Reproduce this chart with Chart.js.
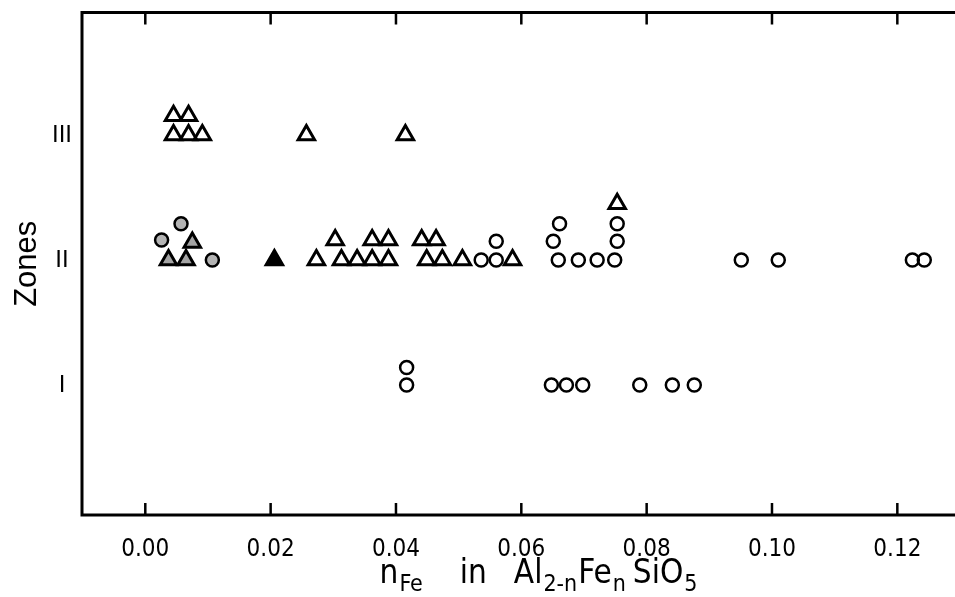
<!DOCTYPE html>
<html>
<head>
<meta charset="utf-8">
<script src="https://cdn.jsdelivr.net/npm/chart.js@4/dist/chart.umd.min.js"></script>
<style>
html, body { margin: 0; padding: 0; overflow: hidden; background: #fff; }
canvas { display: block; }
</style>
</head>
<body>
<canvas id="grafica" width="975" height="597"></canvas>
<script>
// etiquetas de los ejes
var zoneLabels = ['I', 'II', 'III'];
var zoneValues = [1, 2, 3];
var xTickValues = [0, 0.02, 0.04, 0.06, 0.08, 0.10, 0.12];

// triangulos abiertos (y = zona, con desplazamiento cuando se apilan)
var openTriX = [0.0045, 0.0069, 0.0091, 0.0257, 0.0415, 0.0045, 0.0069,
                0.0273, 0.0313, 0.0338, 0.0362, 0.0388, 0.0449, 0.0474, 0.0506, 0.0586,
                0.0303, 0.0362, 0.0388, 0.0441, 0.0464,
                0.0753];
var openTriY = [3, 3, 3, 3, 3, 3.155, 3.155,
                2, 2, 2, 2, 2, 2, 2, 2, 2,
                2.16, 2.16, 2.16, 2.16, 2.16,
                2.45];

// circulos abiertos
var openCircX = [0.0536, 0.0560, 0.0659, 0.0691, 0.0721, 0.0749, 0.0951, 0.1010, 0.1224, 0.1243,
                 0.0560, 0.0651, 0.0753,
                 0.0661, 0.0753,
                 0.0417, 0.0417, 0.0648, 0.0672, 0.0698, 0.0789, 0.0841, 0.0876];
var openCircY = [2, 2, 2, 2, 2, 2, 2, 2, 2, 2,
                 2.15, 2.15, 2.15,
                 2.29, 2.29,
                 1, 1.14, 1, 1, 1, 1, 1, 1];

// simbolos punteados (grises)
var speckCircX = [0.0026, 0.0057, 0.0107];
var speckCircY = [2.16, 2.29, 2];
var speckTriX = [0.0037, 0.0065, 0.0075];
var speckTriY = [2, 2, 2.14];

// triangulo lleno
var fullTriX = [0.0206];
var fullTriY = [2];

function puntos(xs, ys) {
    var out = [];
    for (var i = 0; i < xs.length; i++) out.push({x: xs[i], y: ys[i]});
    return out;
}

var fuente = "'DejaVu Sans Condensed', 'Liberation Sans Narrow', 'Liberation Sans', Arial, sans-serif";

// Marco con marcas hacia adentro arriba y abajo
var marcoPlugin = {
    id: 'marco',
    afterDatasetsDraw: function(chart) {
        var ctx = chart.ctx;
        var a = chart.chartArea;
        var xs = chart.scales.x;
        ctx.save();
        ctx.strokeStyle = '#000';
        ctx.lineWidth = 3;
        ctx.strokeRect(a.left, a.top, a.right - a.left, a.bottom - a.top);
        ctx.lineWidth = 2.5;
        for (var i = 0; i < xTickValues.length; i++) {
            var px = xs.getPixelForValue(xTickValues[i]);
            ctx.beginPath();
            ctx.moveTo(px, a.top);
            ctx.lineTo(px, a.top + 12);
            ctx.moveTo(px, a.bottom);
            ctx.lineTo(px, a.bottom - 12);
            ctx.stroke();
        }
        ctx.restore();
    }
};

// Titulo del eje x con subindices
var tituloPlugin = {
    id: 'tituloX',
    afterDraw: function(chart) {
        var ctx = chart.ctx;
        var piezas = [
            {t: 'n'}, {t: 'Fe', sub: true}, {gap: 36},
            {t: 'in'}, {gap: 26},
            {t: 'Al'}, {t: '2-n', sub: true}, {t: 'Fe'}, {t: 'n', sub: true}, {gap: 6},
            {t: 'SiO'}, {t: '5', sub: true}
        ];
        var fMain = '33px ' + fuente;
        var fSub = '23px ' + fuente;
        ctx.save();
        ctx.fillStyle = '#000';
        ctx.textBaseline = 'alphabetic';
        var total = 0;
        piezas.forEach(function(p) {
            if (p.gap) { total += p.gap; return; }
            ctx.font = p.sub ? fSub : fMain;
            p.w = ctx.measureText(p.t).width + 1;
            total += p.w;
        });
        var x = 539 - total / 2;
        var base = 583;
        piezas.forEach(function(p) {
            if (p.gap) { x += p.gap; return; }
            ctx.font = p.sub ? fSub : fMain;
            ctx.fillText(p.t, x, p.sub ? base + 8 : base);
            x += p.w;
        });
        ctx.restore();
    }
};

function dataset(label, data, style, radius, fill) {
    return {
        label: label,
        data: data,
        pointStyle: style,
        pointRadius: radius,
        pointHoverRadius: radius,
        pointBorderWidth: style === 'triangle' ? 3 : 2.5,
        borderColor: '#000',
        pointBorderColor: '#000',
        pointBackgroundColor: fill,
        backgroundColor: fill,
        showLine: false
    };
}

function sinRelleno(s) {
    s.paddingTop = 0; s.paddingBottom = 0; s.paddingLeft = 0; s.paddingRight = 0;
}

var ctx = document.getElementById('grafica').getContext('2d');
var grafica = new Chart(ctx, {
    type: 'scatter',
    data: {
        datasets: [
            dataset('open triangles', puntos(openTriX, openTriY), 'triangle', 9.5, 'rgba(255,255,255,0)'),
            dataset('open circles', puntos(openCircX, openCircY), 'circle', 6.5, 'rgba(255,255,255,0)'),
            dataset('speckled circles', puntos(speckCircX, speckCircY), 'circle', 6.5, '#b4b4b4'),
            dataset('speckled triangles', puntos(speckTriX, speckTriY), 'triangle', 9.5, '#a4a4a4'),
            dataset('filled triangle', puntos(fullTriX, fullTriY), 'triangle', 9.5, '#000')
        ]
    },
    options: {
        responsive: false,
        animation: false,
        layout: { padding: { top: 8, right: 15, bottom: 0, left: 0 } },
        plugins: { legend: { display: false }, tooltip: { enabled: false } },
        scales: {
            x: {
                type: 'linear',
                min: -0.0101,
                max: 0.13,
                grid: { display: false },
                border: { display: false },
                afterBuildTicks: function(s) {
                    s.ticks = xTickValues.map(function(v) { return {value: v}; });
                },
                afterFit: function(s) { s.height = 82; sinRelleno(s); },
                ticks: {
                    color: '#000',
                    padding: 12,
                    maxRotation: 0,
                    font: { family: fuente, size: 24 },
                    callback: function(v) { return Number(v).toFixed(2); }
                }
            },
            y: {
                type: 'linear',
                min: -0.04,
                max: 3.98,
                grid: { display: false },
                border: { display: false },
                afterBuildTicks: function(s) {
                    s.ticks = zoneValues.map(function(v) { return {value: v}; });
                },
                afterFit: function(s) { s.width = 82; sinRelleno(s); },
                ticks: {
                    color: '#000',
                    padding: 2,
                    crossAlign: 'center',
                    font: { family: "'Liberation Sans', Arial, sans-serif", size: 24 },
                    callback: function(v) { return zoneLabels[zoneValues.indexOf(v)]; }
                },
                title: {
                    display: true,
                    text: 'Zones',
                    color: '#000',
                    padding: { top: 9, bottom: 0 },
                    font: { family: "'Liberation Sans', Arial, sans-serif", size: 31 }
                }
            }
        }
    },
    plugins: [marcoPlugin, tituloPlugin]
});
</script>
</body>
</html>
